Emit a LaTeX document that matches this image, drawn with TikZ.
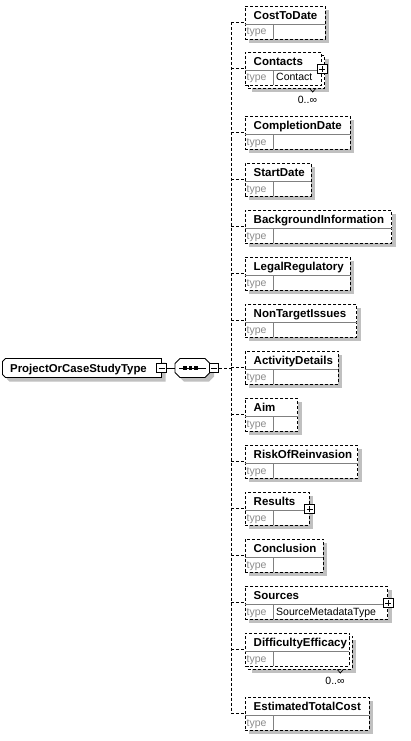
\documentclass[tikz,border=0pt]{standalone}
\usepackage{fontspec}
\setmainfont{Liberation Sans}
\definecolor{shadowgray}{RGB}{192,192,192}
\definecolor{sepgray}{RGB}{128,128,128}
\definecolor{typegray}{RGB}{140,140,140}
\tikzset{
  conn/.style={draw=black, dash pattern=on 3pt off 2pt, line width=0.9pt},
  ebox/.style={draw=black, dash pattern=on 3pt off 2pt, line width=0.9pt, fill=white,
    inner sep=0pt, outer sep=0pt, anchor=north west, minimum height=33pt},
  shade/.style={fill=shadowgray},
  sepline/.style={draw=sepgray, line width=0.9pt},
  titletext/.style={font=\bfseries\fontsize{11.5}{13}\selectfont, anchor=base west, inner sep=0pt},
  roottext/.style={font=\bfseries\fontsize{11.4}{13}\selectfont, anchor=base west, inner sep=0pt},
  typelbl/.style={text=typegray, font=\fontsize{10.5}{12}\selectfont, anchor=base west, inner sep=0pt},
  typeval/.style={font=\fontsize{10.5}{12}\selectfont, anchor=base west, inner sep=0pt},
  multtext/.style={font=\fontsize{10.5}{12}\selectfont, anchor=base east, inner sep=0pt},
  pbox/.style={draw=black, fill=white, minimum size=9.5pt, inner sep=0pt, line width=0.9pt},
  plusbox/.style={pbox, path picture={
     \draw[line width=0.9pt] ([xshift=-3pt]path picture bounding box.center) -- ([xshift=3pt]path picture bounding box.center);
     \draw[line width=0.9pt] ([yshift=-3pt]path picture bounding box.center) -- ([yshift=3pt]path picture bounding box.center);}},
  minusbox/.style={pbox, path picture={
     \draw[line width=0.9pt] ([xshift=-3pt]path picture bounding box.center) -- ([xshift=3pt]path picture bounding box.center);}},
}
% body of an element box: #1 name, #2 top, #3 right, #4 title, #5 type value
\newcommand\xelembody[5]{%
  \node[ebox, minimum width={(#3-245)*1pt}] (#1) at (245,#2) {};
  \draw[sepline] (245,#2+18) -- (#3,#2+18);
  \draw[sepline] (273,#2+18) -- (273,#2+33);
  \node[titletext] (#1t) at (253.5,#2+13.5) {#4};
  \node[typelbl] (#1l) at (246.5,#2+29) {type};
  \node[typeval] (#1v) at (276,#2+29) {#5};
}
\newcommand\xelem[5]{%
  \fill[shade] (249,#2+4) rectangle (#3+4,#2+37);
  \xelembody{#1}{#2}{#3}{#4}{#5}%
}
\newcommand\xelemm[5]{%
  \fill[shade] (252,#2+7) rectangle (#3+7,#2+40);
  \node[ebox, minimum width={(#3-245)*1pt}] (#1b) at (248,#2+3) {};
  \xelembody{#1}{#2}{#3}{#4}{#5}%
  \draw[line width=0.7pt] (#3-12,#2+36.5) -- (#3-9,#2+40) -- (#3-6,#2+36.5);
  \node[multtext] (#1m) at (#3-4.5,#2+51.5) {0..∞};
}
\newcommand\xplus[3]{\node[plusbox] (#1p) at (#3+0.5,#2+17) {};}
\begin{document}
\begin{tikzpicture}[x=1pt,y=-1pt]
\useasboundingbox[fill=white] (0,0) rectangle (411,741);

% root element
\fill[shade] (9.5,362.5) -- (165.5,362.5) -- (165.5,381.5) -- (9.5,381.5) -- (6.5,378.5) -- (6.5,365.5) -- cycle;
\draw[fill=white, line width=0.9pt] (5.5,358.5) -- (161.5,358.5) -- (161.5,377.5) -- (5.5,377.5) -- (2.5,374.5) -- (2.5,361.5) -- cycle;
\node[roottext] (root) at (10,372.5) {ProjectOrCaseStudyType};
\node[minusbox] (rootm) at (161.5,368) {};

% sequence compositor
\coordinate (seqW) at (175,368);
\coordinate (seqE) at (210,368);
\fill[shade] (184,362.5) -- (209,362.5) -- (214,367.5) -- (214,376.5) -- (209,381.5) -- (184,381.5) -- (179,376.5) -- (179,367.5) -- cycle;
\draw[fill=white, line width=0.9pt] (180,358.5) -- (205,358.5) -- (210,363.5) -- (210,372.5) -- (205,377.5) -- (180,377.5) -- (175,372.5) -- (175,363.5) -- cycle;
\draw[line width=0.9pt] (179,368) -- (206,368);
\foreach \dx in {185,190.5,196} \fill (\dx-1.8,366.3) rectangle (\dx+1.8,369.7);
\node[minusbox] (seqm) at (214,368) {};
\draw[line width=0.9pt] (rootm.east) -- (seqW);

% child elements
\xelem{e1}{6}{325}{CostToDate}{}
\xelemm{e2}{52}{321.7}{Contacts}{Contact}
\xplus{e2}{52}{321.7}
\xelem{e3}{116}{350}{CompletionDate}{}
\xelem{e4}{163}{311}{StartDate}{}
\xelem{e5}{210}{391.7}{BackgroundInformation}{}
\xelem{e6}{257}{350}{LegalRegulatory}{}
\xelem{e7}{304}{356.7}{NonTargetIssues}{}
\xelem{e8}{351}{338.3}{ActivityDetails}{}
\xelem{e9}{398}{297.7}{Aim}{}
\xelem{e10}{445}{357.7}{RiskOfReinvasion}{}
\xelem{e11}{492}{309}{Results}{}
\xplus{e11}{492}{309}
\xelem{e12}{539}{323.3}{Conclusion}{}
\xelem{e13}{586}{387.7}{Sources}{SourceMetadataType}
\xplus{e13}{586}{387.7}
\xelemm{e14}{633}{349.3}{DifficultyEfficacy}{}
\xelem{e15}{697}{369}{EstimatedTotalCost}{}

% connectors
\coordinate (spine) at (231,368);
\draw[conn] (seqm.east) -- (spine);
\draw[conn] (spine |- e1.west) -- (spine |- e15.west);
\foreach \n in {e1,e2,e3,e4,e5,e6,e7,e8,e9,e10,e11,e12,e13,e14,e15}
  \draw[conn] (spine |- \n.west) -- (\n.west);
\end{tikzpicture}
\end{document}
